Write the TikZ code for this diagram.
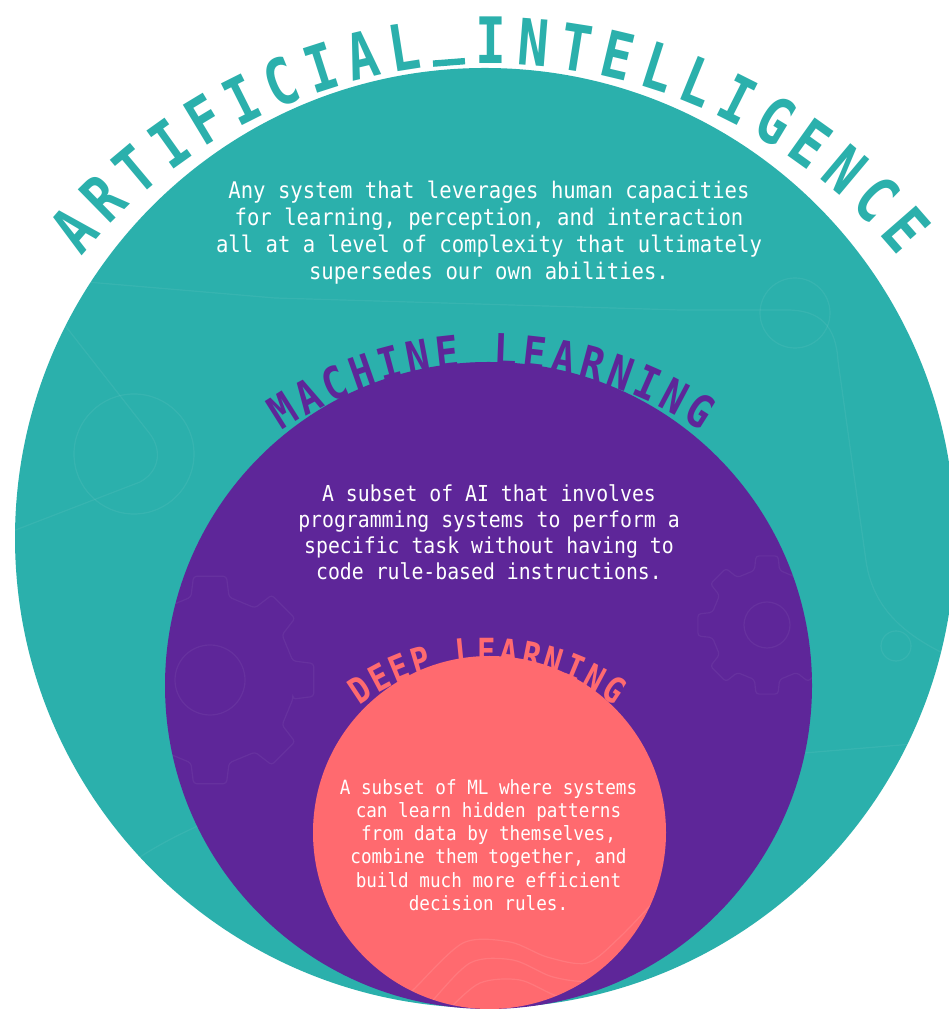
\documentclass[tikz,border=0pt]{standalone}
\usepackage{fontspec}
\usetikzlibrary{decorations.text}

\newfontfamily\monobody[FakeStretch=0.9]{DejaVu Sans Mono}
\newfontfamily\monotitleA[FakeStretch=0.8]{DejaVu Sans Mono}
\newfontfamily\monotitleB[FakeStretch=0.85]{DejaVu Sans Mono}

\definecolor{aiteal}{HTML}{2BB0AC}
\definecolor{mlpurple}{HTML}{5E2699}
\definecolor{dlcoral}{HTML}{FF6A6F}

% heading fonts for the curved titles
\newcommand\aiheadfont{\monotitleA\bfseries\fontsize{64}{64}\selectfont}
\newcommand\mlheadfont{\monotitleB\bfseries\fontsize{45.5}{46}\selectfont}
\newcommand\dlheadfont{\monotitleB\bfseries\fontsize{36}{36}\selectfont}
% baseline bar joining the two words of each title
\newcommand\gapbar{\rule{0.5em}{0.1em}}

% body fonts
\newcommand\aibody{\monobody\fontsize{22.9}{27}\selectfont}
\newcommand\mlbody{\monobody\fontsize{22}{26}\selectfont}
\newcommand\dlbody{\monobody\fontsize{19.6}{23.2}\selectfont}

\tikzset{
  disc/.style={circle, inner sep=0pt, outer sep=0pt, minimum size=#1},
  blurb/.style={text=white, align=center, inner sep=0pt},
  faint/.style={draw=white, draw opacity=#1, line width=1.2pt},
  faint/.default=0.06,
  arctitle/.style n args={3}{decorate, decoration={text along path,
      text={|#1|#2}, text align={fit to path}, text color=#3}},
  pics/cog/.style args={#1/#2/#3/#4}{code={
      \draw[faint=#4, rounded corners=3pt] (-13:#1)
        \foreach \a in {0,45,...,315}{ -- (\a-13:#1) -- (\a-9:#2) -- (\a+9:#2) -- (\a+13:#1) } -- cycle;
      \draw[faint=#4] (0,0) circle[radius=#3];
  }},
}

\begin{document}
\begin{tikzpicture}[x=1pt, y=1pt]
  \useasboundingbox (0,0) rectangle (949,1011);
  \fill[white] (0,0) rectangle (949,1011);
  \clip (0,0) rectangle (949,1011);

  % ---- Artificial intelligence ----
  \node[disc=940pt, fill=aiteal] (ai) at (485,473) {};
  \begin{scope}
    \clip (ai.center) circle[radius=470pt];
    \draw[faint] (60,692) -- (150,577) .. controls (162,561) and (160,540) .. (140,529) -- (0,475);
    \draw[faint] (134,557) circle[radius=60pt];
    \draw[faint] (40,733) -- (275,713) -- (680,701) -- (787,701)
      .. controls (820,701) and (836,685) .. (838,650) -- (866,450)
      .. controls (872,410) and (895,380) .. (949,355);
    \draw[faint] (795,698) circle[radius=35pt];
    \draw[faint] (896,365) circle[radius=15pt];
    \draw[faint] (95,128) -- (140,154) .. controls (160,167) and (180,177) .. (200,186);
    \draw[faint] (780,256) -- (949,270);
  \end{scope}
  \path[arctitle={\aiheadfont}{ARTIFICIAL{\gapbar}INTELLIGENCE}{aiteal}]
    (490,418) ++(140.5:529pt) arc[start angle=140.5, end angle=39.5, radius=529pt];
  \node[blurb, font=\aibody] (aitext) at (489,778.5)
    {Any system that leverages human capacities\\
     for learning, perception, and interaction\\
     all at a level of complexity that ultimately\\
     supersedes our own abilities.};

  % ---- Machine learning ----
  \node[disc=647pt, fill=mlpurple] (ml) at (488.5,325.5) {};
  \begin{scope}
    \clip (ml.center) circle[radius=323.5pt];
    \pic at (210,331) {cog=85pt/105pt/35pt/0.05};
    \pic at (767,386) {cog=56pt/70pt/23pt/0.05};
  \end{scope}
  \path[arctitle={\mlheadfont}{MACHINE{\gapbar}LEARNING}{mlpurple}]
    (491,269) ++(124:375pt) arc[start angle=124, end angle=56, radius=375pt];
  \node[blurb, font=\mlbody] (mltext) at (489,479)
    {A subset of AI that involves\\
     programming systems to perform a\\
     specific task without having to\\
     code rule-based instructions.};

  % ---- Deep learning ----
  \node[disc=353pt, fill=dlcoral] (dl) at (489.5,178.5) {};
  \begin{scope}
    \clip (dl.center) circle[radius=176.5pt];
    \draw[faint=0.1] plot[smooth] coordinates
      {(400,11) (413,21) (463,68) (510,69) (547,54) (587,48) (620,74) (660,116)};
    \draw[faint=0.1] plot[smooth] coordinates
      {(420,-4) (427,4) (470,48) (513,51) (553,34) (593,31) (633,58) (670,96)};
    \draw[faint=0.1] plot[smooth] coordinates
      {(440,-9) (447,0) (480,28) (520,31) (560,14) (597,14) (637,41) (675,76)};
  \end{scope}
  \path[arctitle={\dlheadfont}{DEEP{\gapbar}LEARNING}{dlcoral}]
    (487,130) ++(126:217pt) arc[start angle=126, end angle=54, radius=217pt];
  \node[blurb, font=\dlbody] (dltext) at (488.5,166)
    {A subset of ML where systems\\
     can learn hidden patterns\\
     from data by themselves,\\
     combine them together, and\\
     build much more efficient\\
     decision rules.};
\end{tikzpicture}
\end{document}
